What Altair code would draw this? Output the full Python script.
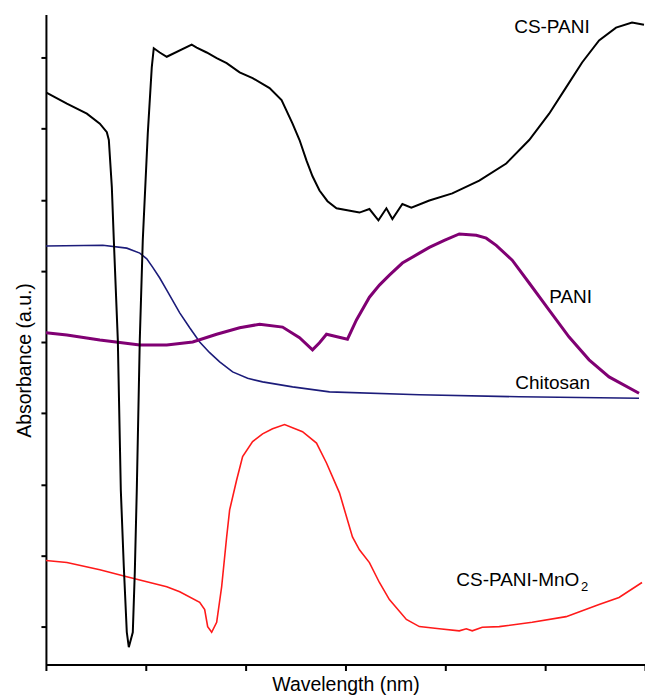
import altair as alt
import pandas as pd

# ---- data (wavelength in nm, absorbance in a.u.) ----
cs_pani_wl = [200, 221, 241, 254, 261, 263, 266, 268, 272, 274, 275, 278, 281, 283,
              287, 289, 291, 292, 294, 297, 302, 306, 308, 314, 321, 346, 351, 361,
              371, 381, 394, 407, 424, 436, 447, 454, 461, 467, 474, 482, 491, 514,
              524, 533, 541, 547, 557, 566, 584, 607, 634, 661, 684, 704, 721, 737,
              754, 771, 787, 799]
cs_pani_abs = [0.951, 0.935, 0.921, 0.907, 0.895, 0.884, 0.818, 0.743, 0.603, 0.462,
               0.392, 0.284, 0.192, 0.171, 0.192, 0.276, 0.392, 0.462, 0.603, 0.743,
               0.893, 0.986, 1.013, 1.007, 1.001, 1.018, 1.014, 1.007, 0.999, 0.992,
               0.979, 0.971, 0.957, 0.940, 0.907, 0.884, 0.855, 0.833, 0.813, 0.798,
               0.788, 0.782, 0.787, 0.771, 0.788, 0.773, 0.794, 0.789, 0.799, 0.809,
               0.827, 0.851, 0.884, 0.921, 0.958, 0.993, 1.024, 1.042, 1.049, 1.046]

pani_wl = [200, 221, 254, 294, 321, 347, 371, 394, 414, 437, 454, 467, 474, 481,
           502, 511, 524, 534, 544, 557, 574, 584, 599, 614, 631, 641, 651, 667,
           684, 704, 724, 744, 764, 794]
pani_abs = [0.613, 0.610, 0.603, 0.596, 0.596, 0.600, 0.611, 0.620, 0.625, 0.621,
            0.606, 0.589, 0.599, 0.611, 0.604, 0.631, 0.663, 0.680, 0.694, 0.711,
            0.725, 0.733, 0.743, 0.752, 0.750, 0.746, 0.736, 0.715, 0.683, 0.645,
            0.607, 0.575, 0.551, 0.528]

chitosan_wl = [200, 257, 281, 294, 301, 307, 314, 321, 334, 344, 354, 364, 374, 387,
               402, 417, 447, 484, 574, 674, 794]
chitosan_abs = [0.735, 0.736, 0.732, 0.725, 0.717, 0.705, 0.690, 0.673, 0.641, 0.620,
                0.600, 0.585, 0.572, 0.558, 0.549, 0.544, 0.537, 0.530, 0.526, 0.523,
                0.521]

mno2_wl = [200, 221, 254, 281, 321, 334, 354, 359, 362, 366, 371, 376, 381, 384,
           391, 397, 407, 417, 427, 439, 457, 471, 481, 494, 507, 514, 524, 534,
           544, 561, 574, 594, 614, 621, 627, 637, 654, 687, 721, 754, 774, 797]
mno2_abs = [0.293, 0.290, 0.280, 0.270, 0.256, 0.249, 0.234, 0.224, 0.200, 0.192,
            0.206, 0.256, 0.326, 0.364, 0.406, 0.439, 0.460, 0.471, 0.478, 0.484,
            0.474, 0.458, 0.430, 0.388, 0.326, 0.308, 0.290, 0.262, 0.238, 0.210,
            0.200, 0.197, 0.194, 0.197, 0.194, 0.199, 0.200, 0.206, 0.214, 0.231,
            0.241, 0.262]

x_ticks = [200, 300, 400, 500, 600, 700, 800]
y_ticks = [0.2, 0.3, 0.4, 0.5, 0.6, 0.7, 0.8, 0.9, 1.0]

label_text = ["CS-PANI", "PANI", "Chitosan", "CS-PANI-MnO"]
label_wl = [669, 704, 670, 611]
label_abs = [1.035, 0.655, 0.534, 0.2575]
sub_text = ["2"]
sub_wl = [736]
sub_abs = [0.2505]

FONT = "Liberation Sans"

xscale = alt.Scale(domain=[200, 800], nice=False, zero=False)
yscale = alt.Scale(domain=[0.1467, 1.0604], nice=False, zero=False)

xaxis = alt.Axis(values=x_ticks, labels=False, grid=False, ticks=True, tickSize=6,
                 tickWidth=2, tickColor="black", domainColor="black", domainWidth=2,
                 title="Wavelength (nm)", titleFont=FONT, titleFontSize=19.5,
                 titleFontWeight="normal", titleColor="black",
                 titleBaseline="alphabetic", titleY=26)
yaxis = alt.Axis(values=y_ticks, labels=False, grid=False, ticks=True, tickSize=5,
                 tickWidth=2, tickColor="black", domainColor="black", domainWidth=2,
                 title="Absorbance (a.u.)", titleFont=FONT, titleFontSize=19.5,
                 titleFontWeight="normal", titleColor="black", titleAngle=-90,
                 titleAlign="center", titleBaseline="alphabetic", titleX=-15,
                 titleY=346)

X = alt.X("wl:Q", scale=xscale, axis=xaxis)
Y = alt.Y("abs:Q", scale=yscale, axis=yaxis)


def line(wl, ab, color, width):
    df = pd.DataFrame({"wl": wl, "abs": ab})
    return alt.Chart(df).mark_line(color=color, strokeWidth=width, clip=True).encode(x=X, y=Y)


red = line(mno2_wl, mno2_abs, "#ff1a1a", 1.6)
navy = line(chitosan_wl, chitosan_abs, "#1c1c7a", 1.6)
purple = line(pani_wl, pani_abs, "#800073", 3)
black = line(cs_pani_wl, cs_pani_abs, "#000000", 2)

labels = alt.Chart(pd.DataFrame({"t": label_text, "wl": label_wl, "abs": label_abs})).mark_text(
    align="left", baseline="alphabetic", font=FONT, fontSize=19, color="black"
).encode(x=X, y=Y, text="t:N")

sub = alt.Chart(pd.DataFrame({"t": sub_text, "wl": sub_wl, "abs": sub_abs})).mark_text(
    align="left", baseline="alphabetic", font=FONT, fontSize=13, color="black"
).encode(x=X, y=Y, text="t:N")

chart = alt.layer(red, navy, purple, black, labels, sub).properties(
    width=600, height=651,
    background="white",
    autosize=alt.AutoSizeParams(type="none"),
    padding={"left": 46, "top": 14, "right": 0, "bottom": 31},
).configure_view(stroke=None)

chart.save("out.html", embed_options={"renderer": "svg", "actions": False})
